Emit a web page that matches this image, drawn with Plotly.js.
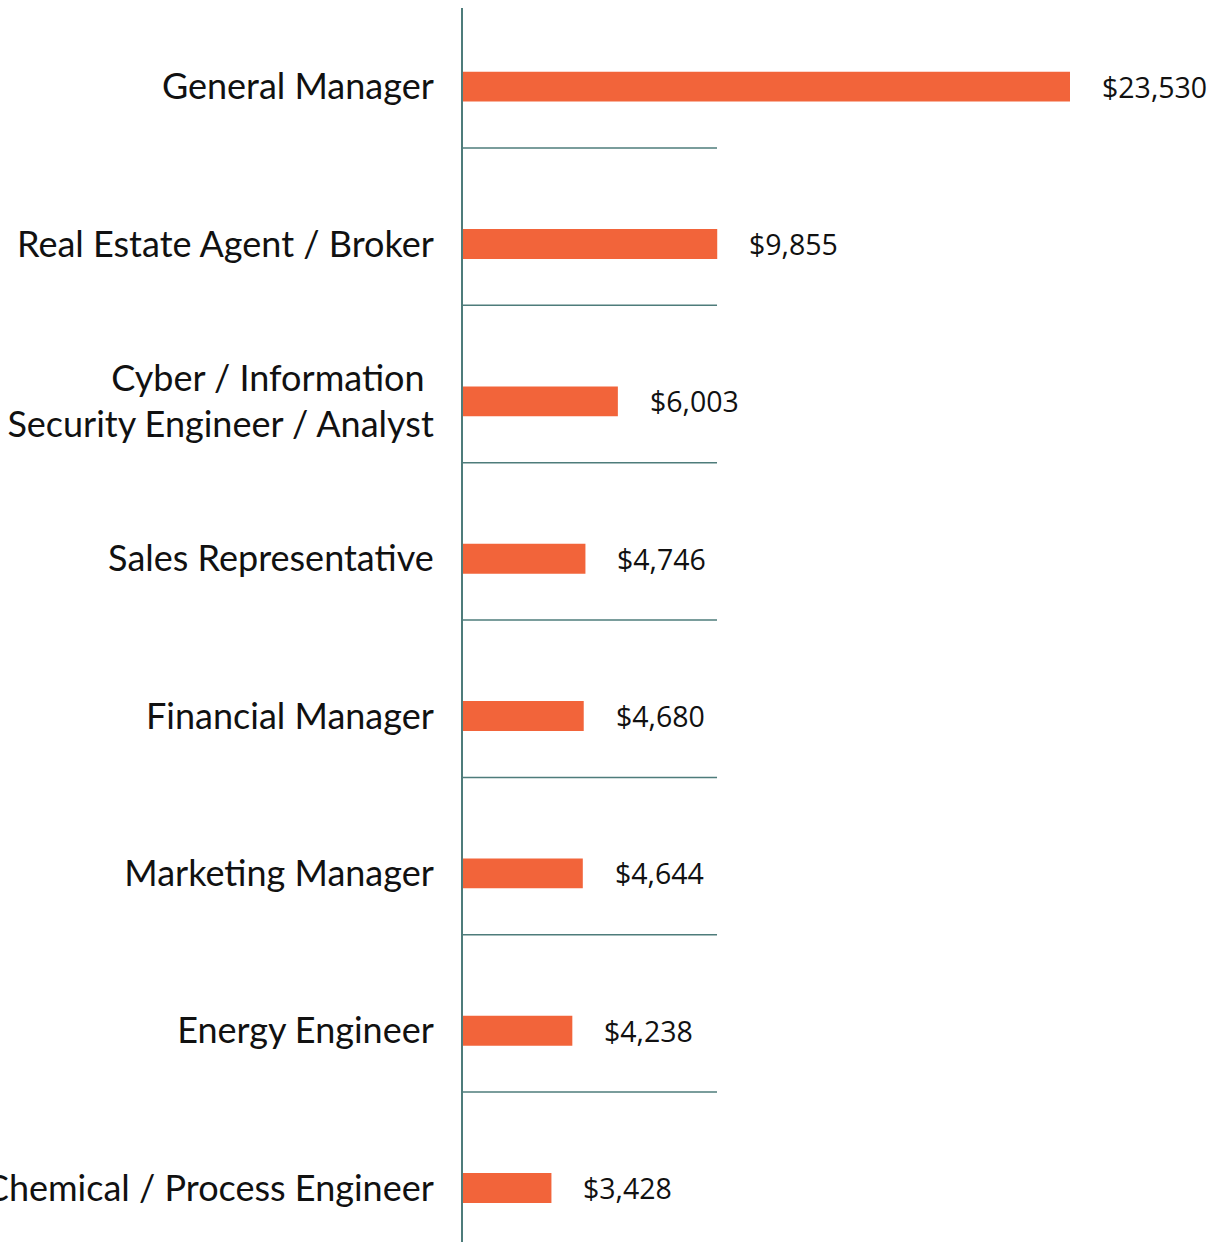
<!DOCTYPE html>
<html>
<head>
<meta charset="utf-8">
<script src="https://cdn.plot.ly/plotly-3.0.1.min.js"></script>
<style>html,body{margin:0;padding:0;background:#fff;}</style>
</head>
<body>
<div id="chart" style="width:1215px;height:1242px;"></div>
<script>
const categories = [
  "General Manager",
  "Real Estate Agent / Broker",
  "Cyber / Information\u00A0<br>Security Engineer / Analyst",
  "Sales Representative",
  "Financial Manager",
  "Marketing Manager",
  "Energy Engineer",
  "Chemical / Process Engineer"
];
const values = [23530, 9855, 6003, 4746, 4680, 4644, 4238, 3428];
const valueLabels = ["$23,530", "$9,855", "$6,003", "$4,746", "$4,680", "$4,644", "$4,238", "$3,428"];

const barColor = "#F2643A";
const lineColor = "#4E7C7B";

const trace = {
  type: "bar",
  orientation: "h",
  x: values,
  y: categories,
  width: 0.19,
  marker: { color: barColor },
  hoverinfo: "none"
};

const annotations = values.map((v, i) => ({
  x: v, y: categories[i], xref: "x", yref: "y",
  text: valueLabels[i], showarrow: false,
  xanchor: "left", yanchor: "middle", xshift: 30,
  font: { family: "Open Sans", size: 28.5, color: "#111" }
}));

const sepOffset = 0.39;
const shapes = categories.slice(0, -1).map((c, i) => ({
  type: "line", xref: "paper", yref: "y",
  x0: 0, x1: 0.3378, y0: i + sepOffset, y1: i + sepOffset,
  line: { color: lineColor, width: 1.5 }
}));

const layout = {
  width: 1215, height: 1242,
  margin: { l: 463, r: 0, t: 8, b: 0, pad: 0 },
  paper_bgcolor: "#fff", plot_bgcolor: "#fff",
  showlegend: false,
  xaxis: { range: [0, 29151], visible: false, fixedrange: true },
  yaxis: {
    type: "category",
    range: [7.343, -0.5],
    showline: true, linecolor: lineColor, linewidth: 2,
    showgrid: false, zeroline: false, ticks: "",
    ticklabelstandoff: 20,
    tickfont: { family: "Lato", size: 36, color: "#111" },
    fixedrange: true
  },
  annotations: annotations,
  shapes: shapes
};

Plotly.newPlot("chart", [trace], layout, { staticPlot: true });
</script>
</body>
</html>
